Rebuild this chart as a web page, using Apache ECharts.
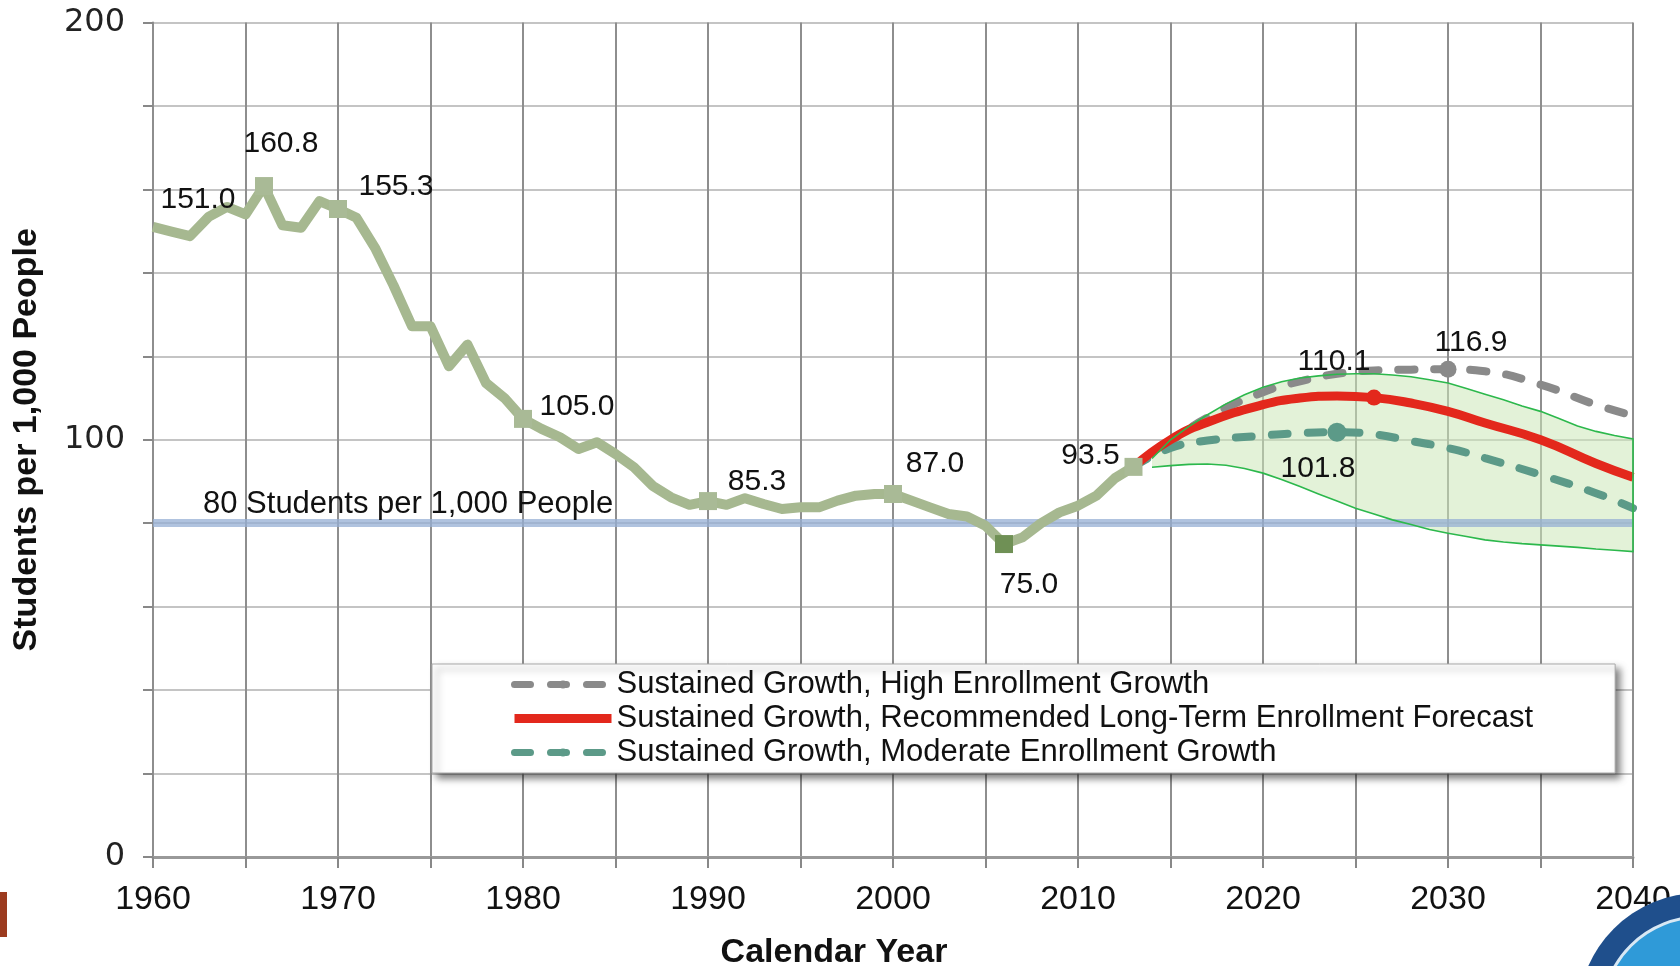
<!DOCTYPE html>
<html>
<head>
<meta charset="utf-8">
<script src="https://cdn.jsdelivr.net/npm/echarts@6/dist/echarts.min.js"></script>
<style>
html,body{margin:0;padding:0;background:#ffffff;}
#chart{width:1680px;height:966px;}
</style>
</head>
<body>
<div id="chart"></div>
<script>
// ---------------- DATA ----------------
const histYears = [1960,1961,1962,1963,1964,1965,1966,1967,1968,1969,
                   1970,1971,1972,1973,1974,1975,1976,1977,1978,1979,
                   1980,1981,1982,1983,1984,1985,1986,1987,1988,1989,
                   1990,1991,1992,1993,1994,1995,1996,1997,1998,1999,
                   2000,2001,2002,2003,2004,2005,2006,2007,2008,2009,
                   2010,2011,2012,2013];
const histValues = [151.0,149.9,148.8,153.4,155.8,154.0,160.8,151.4,150.8,157.2,
                    155.3,153.2,146.0,137.0,127.2,127.2,117.6,122.8,113.6,110.0,
                    105.0,102.6,100.6,97.8,99.4,96.6,93.4,89.0,86.2,84.4,
                    85.3,84.4,86.0,84.6,83.4,83.8,83.8,85.4,86.6,87.0,
                    87.0,85.4,83.8,82.2,81.6,79.4,75.0,76.6,80.0,82.6,
                    84.2,86.6,90.8,93.5];
const histMarkerYears = [1966,1970,1980,1990,2000,2006,2013];
const histLabelYears = [1960,1966,1970,1980,1990,2000,2006,2013];

const forecastYears = [2013,2015,2017,2020,2022,2024,2026,2028,2030,2032,2035,2038,2040];
const highValues = [93.5,99.5,105.3,111.4,114.0,115.8,116.6,116.8,116.9,116.4,113.2,108.4,105.8];
const recValues  = [93.5,100.0,104.2,108.4,110.0,110.5,110.1,108.8,106.8,104.0,100.0,94.3,91.0];
const modValues  = [93.5,98.0,99.8,101.0,101.6,101.8,101.3,99.7,98.0,95.6,91.6,87.2,83.6];
const highMarkerYear = 2030;
const recMarkerYear = 2026;
const modMarkerYear = 2024;

const bandYears = [2014,2015,2016,2017,2018,2019,2020,2021,2022,2023,2024,2025,2026,2027,
                   2028,2029,2030,2031,2032,2033,2034,2035,2036,2037,2038,2039,2040];
const bandUpper = [95.5,100.0,103.2,106.0,108.6,110.8,112.6,113.9,114.8,115.3,115.7,115.8,115.8,115.5,
                   115.1,114.4,113.6,112.3,110.9,109.6,108.1,106.8,105.1,103.3,102.0,101.0,100.2];
const bandLower = [93.4,93.8,94.1,94.2,93.9,93.1,92.0,90.5,88.8,87.0,85.3,83.6,82.2,80.8,
                   79.7,78.5,77.6,76.8,76.0,75.5,75.1,74.8,74.5,74.2,73.8,73.5,73.2];

const thresholdValue = 80;
const thresholdLabel = '80 Students per 1,000 People';
const seriesNames = [
  'Sustained Growth, High Enrollment Growth',
  'Sustained Growth, Recommended Long-Term Enrollment Forecast',
  'Sustained Growth, Moderate Enrollment Growth'
];
const xAxisTitle = 'Calendar Year';
const yAxisTitle = 'Students per 1,000 People';

// ---------------- STYLE ----------------
const FONT = '"Liberation Sans", Arial, Helvetica, sans-serif';
const labelStyle = {color: '#111', fontSize: 30, fontFamily: FONT, textBorderWidth: 0};
const histLabelOffsets = {1960:[45,-27],1966:[17,-42],1970:[58,-22],1980:[54,-12],
                          1990:[49,-19],2000:[42,-30],2006:[25,41],2013:[-43,-11]};
const fmt1 = p => Number(p.value[1]).toFixed(1);

const histData = histYears.map((yr, i) => {
  const item = {value: [yr, histValues[i]]};
  const isMarker = histMarkerYears.includes(yr);
  const isLabel = histLabelYears.includes(yr);
  if (isMarker || isLabel) {
    item.symbol = 'rect';
    item.symbolSize = isMarker ? 18 : 1;
    item.itemStyle = {color: isMarker ? (yr === 2006 ? '#6f9055' : '#a9ba96') : 'rgba(0,0,0,0)'};
    if (isLabel) {
      item.label = Object.assign({show: true, position: 'inside', offset: histLabelOffsets[yr], formatter: fmt1}, labelStyle);
    }
  } else {
    item.symbol = 'none';
  }
  return item;
});

function forecastData(values, markerYear, color, size, offset) {
  return forecastYears.map((yr, i) => {
    const item = {value: [yr, values[i]]};
    if (yr === markerYear) {
      item.symbol = 'circle';
      item.symbolSize = size;
      item.itemStyle = {color: color};
      item.label = Object.assign({show: true, position: 'inside', offset: offset, formatter: fmt1}, labelStyle);
    }
    return item;
  });
}

const bandData = bandYears.map((yr, i) => [yr, bandLower[i], bandUpper[i]]);

function bandPoints(api) {
  const pts = [];
  for (let i = 0; i < bandYears.length; i++) pts.push(api.coord([bandYears[i], bandUpper[i]]));
  for (let i = bandYears.length - 1; i >= 0; i--) pts.push(api.coord([bandYears[i], bandLower[i]]));
  return pts;
}

const chart = echarts.init(document.getElementById('chart'), null, {renderer: 'canvas'});

const option = {
  animation: false,
  backgroundColor: '#ffffff',
  grid: {left: 153, right: 47, top: 22.5, bottom: 109, containLabel: false, outerBoundsMode: 'none'},
  xAxis: {
    type: 'value', min: 1960, max: 2040, interval: 5,
    name: xAxisTitle, nameLocation: 'middle', nameGap: 79,
    nameTextStyle: {fontSize: 34, fontWeight: 'bold', fontFamily: FONT, color: '#111', padding: [0, 118, 0, 0]},
    axisLine: {show: true, lineStyle: {color: '#999999', width: 3}},
    axisTick: {show: true, length: 11, lineStyle: {color: '#888888', width: 2}},
    axisLabel: {
      fontSize: 34, fontFamily: FONT, color: '#111', margin: 26,
      formatter: v => (v % 10 === 0 ? String(v) : '')
    },
    splitLine: {show: true, lineStyle: {color: '#8e8e8e', width: 2}}
  },
  yAxis: {
    type: 'value', min: 0, max: 200, interval: 20,
    name: yAxisTitle, nameLocation: 'middle', nameGap: 109,
    nameTextStyle: {fontSize: 34, fontWeight: 'bold', fontFamily: FONT, color: '#111'},
    axisLine: {show: true, lineStyle: {color: '#8e8e8e', width: 2}},
    axisTick: {show: true, length: 10, lineStyle: {color: '#888888', width: 2}},
    axisLabel: {
      fontSize: 32, fontFamily: '"DejaVu Sans", sans-serif', color: '#222', margin: 28,
      formatter: v => (v % 100 === 0 ? String(v) : '')
    },
    splitLine: {show: true, lineStyle: {color: '#c4c4c4', width: 2}}
  },
  legend: {
    orient: 'vertical', left: 432, top: 664,
    padding: [5, 82, 5, 78],
    itemGap: 3, itemWidth: 97, itemHeight: 10,
    backgroundColor: '#ffffff', borderColor: '#a8a8a8', borderWidth: 1,
    shadowColor: 'rgba(0,0,0,0.5)', shadowBlur: 7, shadowOffsetX: 5, shadowOffsetY: 5,
    selectedMode: false,
    textStyle: {fontSize: 31, fontFamily: FONT, color: '#111'},
    lineStyle: {width: 7},
    data: [
      {name: seriesNames[0]},
      {name: seriesNames[1], lineStyle: {width: 9}},
      {name: seriesNames[2]}
    ]
  },
  series: [
    {
      type: 'custom', name: 'bandFill', z: 1, silent: true,
      data: bandData, encode: {x: 0, y: [1, 2]},
      renderItem: function (params, api) {
        if (params.dataIndex !== 0) return;
        return {type: 'polygon', shape: {points: bandPoints(api)},
                style: {fill: 'rgba(204,232,184,0.55)', stroke: null}};
      }
    },
    {
      type: 'line', name: 'history', z: 4,
      data: histData, symbol: 'rect', showSymbol: true,
      lineStyle: {color: '#a6b890', width: 10, join: 'round'},
      itemStyle: {color: '#a6b890'},
      markLine: {
        silent: true, symbol: 'none', z: 3,
        lineStyle: {color: 'rgba(150,175,212,0.75)', width: 8, type: 'solid'},
        label: {show: true, position: 'insideStartTop', distance: [50, 3],
                formatter: thresholdLabel, color: '#111', fontSize: 31, fontFamily: FONT},
        emphasis: {disabled: true},
        data: [{yAxis: thresholdValue}]
      }
    },
    {
      type: 'line', name: seriesNames[0], z: 3, smooth: true, symbol: 'none',
      data: forecastData(highValues, highMarkerYear, '#8a8a8a', 17, [23, -27]),
      lineStyle: {color: '#8a8a8a', width: 8, type: [16, 20], cap: 'round'},
      itemStyle: {color: '#8a8a8a'}
    },
    {
      type: 'line', name: seriesNames[2], z: 3, smooth: true, symbol: 'none',
      data: forecastData(modValues, modMarkerYear, '#5c9a88', 19, [-19, 36]),
      lineStyle: {color: '#5c9a88', width: 8, type: [16, 20], cap: 'round'},
      itemStyle: {color: '#5c9a88'}
    },
    {
      type: 'line', name: seriesNames[1], z: 3, smooth: true, symbol: 'none',
      data: forecastData(recValues, recMarkerYear, '#e3281c', 16, [-40, -36]),
      lineStyle: {color: '#e3281c', width: 9},
      itemStyle: {color: '#e3281c'}
    },
    {
      type: 'custom', name: 'bandEdge', z: 5, silent: true,
      data: bandData, encode: {x: 0, y: [1, 2]},
      renderItem: function (params, api) {
        if (params.dataIndex !== 0) return;
        return {type: 'polyline', shape: {points: bandPoints(api)},
                style: {fill: null, stroke: '#2cb84c', lineWidth: 1.6}};
      }
    }
  ],
  graphic: [
    {type: 'rect', z: 100, shape: {x: 0, y: 892, width: 7, height: 45}, style: {fill: '#9c3b1f'}},
    {type: 'circle', z: 100, shape: {cx: 1700, cy: 1015, r: 122}, style: {fill: '#1f4f8c'}},
    {type: 'circle', z: 101, shape: {cx: 1700, cy: 1015, r: 98}, style: {fill: '#2f9ad8', stroke: '#d8e8f4', lineWidth: 3}}
  ]
};
chart.setOption(option);
</script>
</body>
</html>
